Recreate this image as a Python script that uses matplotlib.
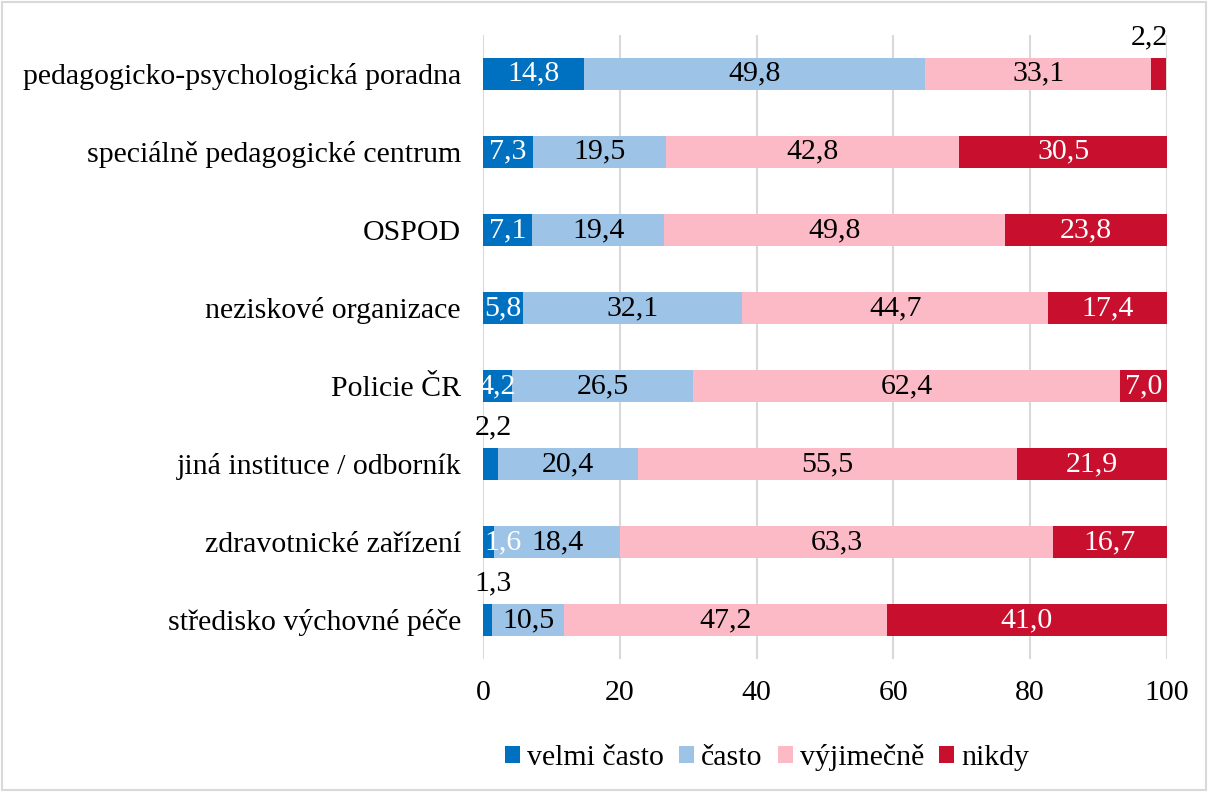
import numpy as np
import matplotlib.pyplot as plt
from matplotlib.patches import Rectangle

plt.rcParams['font.family'] = ['Liberation Serif', 'DejaVu Serif']

# Data
categories = ["pedagogicko-psychologická poradna", "speciálně pedagogické centrum",
              "OSPOD", "neziskové organizace", "Policie ČR",
              "jiná instituce / odborník", "zdravotnické zařízení",
              "středisko výchovné péče"]
velmi_casto = [14.8, 7.3, 7.1, 5.8, 4.2, 2.2, 1.6, 1.3]
casto = [49.8, 19.5, 19.4, 32.1, 26.5, 20.4, 18.4, 10.5]
vyjimecne = [33.1, 42.8, 49.8, 44.7, 62.4, 55.5, 63.3, 47.2]
nikdy = [2.2, 30.5, 23.8, 17.4, 7.0, 21.9, 16.7, 41.0]

series = [velmi_casto, casto, vyjimecne, nikdy]
names = ["velmi často", "často", "výjimečně", "nikdy"]
colors = ["#0070C0", "#9DC3E6", "#FCBAC6", "#C8102E"]
text_colors = ["white", "black", "black", "white"]

# labels that sit above the bar instead of inside (series index, row index)
above = {(3, 0), (0, 5), (0, 7)}

fig = plt.figure(figsize=(12.08, 7.92), dpi=100)
ax = fig.add_axes([0.400, 0.168, 0.566, 0.788])

y = np.arange(len(categories))
left = np.zeros(len(categories))
fs = 21.5

for k, (vals, name, col, tcol) in enumerate(zip(series, names, colors, text_colors)):
    vals = np.array(vals)
    ax.barh(y, vals, left=left, height=0.41, color=col, label=name, zorder=3)
    for i, v in enumerate(vals):
        txt = f"{v:.1f}".replace(".", ",")
        if (k, i) in above:
            xpos = left[i] + v / 2
            xpos = min(xpos, 97.5)
            xpos = max(xpos, 1.5)
            ax.text(xpos, y[i] - 0.47, txt, ha="center", va="center",
                    fontsize=fs, color="black", zorder=4)
        elif v < 2:
            # too narrow: start text at the bar start
            ax.text(left[i] + 0.2, y[i], txt, ha="left", va="center",
                    fontsize=fs, color=tcol, zorder=4)
        else:
            ax.text(left[i] + v / 2, y[i], txt, ha="center", va="center",
                    fontsize=fs, color=tcol, zorder=4)
    left += vals

ax.set_xlim(0, 100)
ax.set_ylim(len(categories) - 0.5, -0.5)
ax.set_xticks(np.arange(0, 101, 20))
ax.set_yticks(y)
ax.set_yticklabels(categories, fontsize=fs)
ax.tick_params(axis="x", labelsize=fs, length=0, pad=15)
ax.tick_params(axis="y", length=0, pad=16)
ax.grid(axis="x", color="#D9D9D9", linewidth=1.5, zorder=0)
for s in ax.spines.values():
    s.set_visible(False)

fig.legend(loc="lower center", bbox_to_anchor=(0.635, -0.008), ncol=4, frameon=False,
           fontsize=fs, handlelength=0.5, handleheight=0.5, handletextpad=0.25,
           columnspacing=0.5)

fig.patches.append(Rectangle((0.002, 0.002), 0.996, 0.996, transform=fig.transFigure,
                             fill=False, edgecolor="#D9D9D9", linewidth=1.5))

fig.savefig("out.png", dpi=100)
